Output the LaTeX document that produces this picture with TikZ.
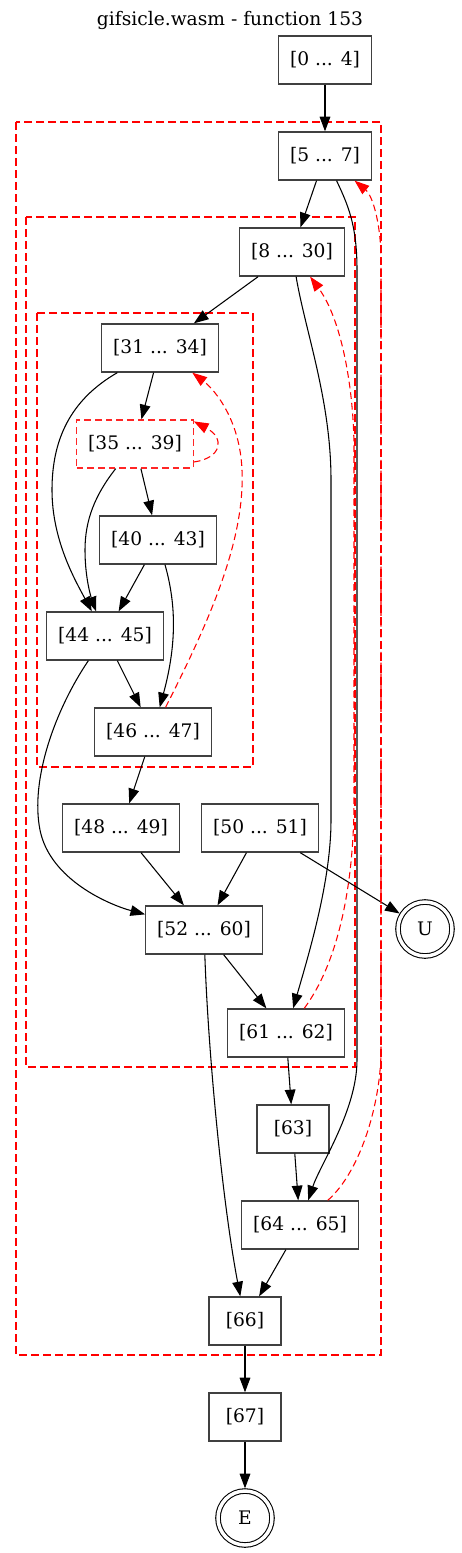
\documentclass[tikz,border=0pt]{standalone}
\usepackage{fontspec}
\setmainfont{DejaVu Serif}
\usetikzlibrary{arrows.meta}

\begin{document}
\begin{tikzpicture}[x=0.75pt,y=-0.75pt,
    font=\fontsize{14}{17}\selectfont,
    box/.style={draw=black!75,line width=1pt,minimum width=54pt,minimum height=36pt,inner xsep=8.5pt},
    loopblk/.style={box,draw=red!85,dash pattern=on 5pt off 3pt},
    term/.style={circle,draw,double,double distance=2.6pt,line width=0.8pt,minimum size=40.5pt,inner sep=0pt,outer sep=2pt},
    arr/.style={-{Triangle[length=11pt,width=8pt]},line width=0.8pt},
    back/.style={arr,red,dash pattern=on 5pt off 3pt},
    region/.style={red,line width=0.9pt,dash pattern=on 6pt off 3pt}]
    \useasboundingbox (0,0) rectangle (461,1553);
    \node (title) at (230,20) {gifsicle.wasm - function 153};
    \draw[region] (16,122) rectangle (381,1355);
    \draw[region] (26,217) rectangle (355,1067);
    \draw[region] (37,313) rectangle (253,767);
    \node[box] (blk0) at (325,60) {[0 ... 4]};
    \node[box] (blk5) at (325,156) {[5 ... 7]};
    \node[box] (blk8) at (292,252) {[8 ... 30]};
    \node[box] (blk31) at (160,348) {[31 ... 34]};
    \node[loopblk] (blk35) at (135,444) {[35 ... 39]};
    \node[box] (blk40) at (158,540) {[40 ... 43]};
    \node[box] (blk44) at (105,636) {[44 ... 45]};
    \node[box] (blk46) at (153,732) {[46 ... 47]};
    \node[box] (blk48) at (121,828) {[48 ... 49]};
    \node[box] (blk50) at (260,828) {[50 ... 51]};
    \node[box] (blk52) at (204,930) {[52 ... 60]};
    \node[term] (unreach) at (425,929) {U};
    \node[box] (blk61) at (286,1033) {[61 ... 62]};
    \node[box] (blk63) at (293,1129) {[63]};
    \node[box] (blk64) at (300,1225) {[64 ... 65]};
    \node[box] (blk66) at (245,1321) {[66]};
    \node[box] (blk67) at (245,1417) {[67]};
    \node[term] (exit) at (245,1518) {E};
    \draw[arr] (blk0) -- (blk5);
    \draw[arr] (blk5) -- (blk8);
    \draw[arr] (blk5) .. controls (348,205) and (357,225) .. (357,270) -- (357,1060) .. controls (357,1110) and (320,1165) .. (blk64);
    \draw[arr] (blk8) -- (blk31);
    \draw[arr] (blk8) .. controls (305,330) and (331,400) .. (331,480) -- (331,820) .. controls (331,880) and (310,950) .. (blk61);
    \draw[arr] (blk31) -- (blk35);
    \draw[arr] (blk31) .. controls (70,400) and (52,440) .. (52,490) .. controls (52,540) and (75,580) .. (blk44);
    \draw[arr] (blk35) -- (blk40);
    \draw[arr] (blk35) .. controls (95,495) and (85,520) .. (85,550) .. controls (85,580) and (92,600) .. (blk44);
    \draw[back] (blk35.-17) .. controls (222,458) and (225,438) .. (blk35.21);
    \draw[arr] (blk40) -- (blk44);
    \draw[arr] (blk40) .. controls (175,600) and (178,640) .. (blk46);
    \draw[arr] (blk44) -- (blk46);
    \draw[arr] (blk44) .. controls (55,710) and (30,780) .. (40,830) .. controls (50,880) and (110,905) .. (blk52);
    \draw[back] (blk46) .. controls (210,620) and (245,540) .. (242,470) .. controls (240,420) and (215,390) .. (blk31);
    \draw[arr] (blk46) -- (blk48);
    \draw[arr] (blk48) -- (blk52);
    \draw[arr] (blk50) -- (blk52);
    \draw[arr] (blk50) -- (unreach);
    \draw[arr] (blk52) -- (blk61);
    \draw[arr] (blk52) .. controls (208,1050) and (222,1200) .. (blk66);
    \draw[back] (blk61) .. controls (340,960) and (354,880) .. (354,800) -- (354,450) .. controls (354,390) and (342,320) .. (blk8);
    \draw[arr] (blk61) -- (blk63);
    \draw[arr] (blk63) -- (blk64);
    \draw[back] (blk64) .. controls (362,1170) and (381,1100) .. (381,1050) -- (381,260) .. controls (381,225) and (373,196) .. (blk5);
    \draw[arr] (blk64) -- (blk66);
    \draw[arr] (blk66) -- (blk67);
    \draw[arr] (blk67) -- (exit);
  \end{tikzpicture}
\end{document}
